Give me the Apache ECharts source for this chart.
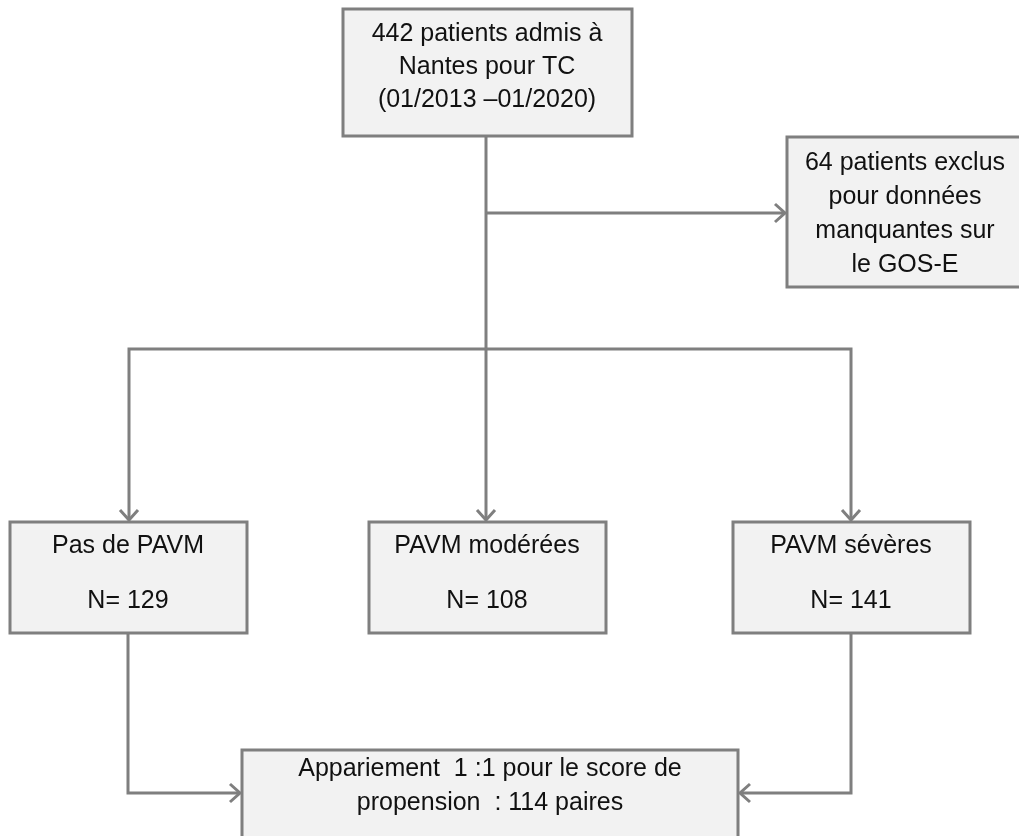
<!DOCTYPE html>
<html lang="fr">
<head>
    <meta charset="UTF-8">
    <title>Diagramme de flux</title>
    <style>
        html, body { margin: 0; padding: 0; background: #fff; }
        #chartBox { width: 1019px; height: 836px; }
    </style>
</head>
<body>
<div id="chartBox"></div>
<script type="text/javascript" src="https://cdn.jsdelivr.net/npm/echarts@6/dist/echarts.min.js"></script>
<script type="text/javascript">
    // effectifs
    var totalAdmis = 442;
    var periode = '(01/2013 \u201301/2020)';
    var exclus = 64;
    var groupes = ['Pas de PAVM', 'PAVM modérées', 'PAVM sévères'];
    var effectifs = [129, 108, 141];
    var paires = 114;

    // texte de chaque case
    var boxTexts = [
        [totalAdmis + ' patients admis à', 'Nantes pour TC', periode],
        [exclus + ' patients exclus', 'pour données', 'manquantes sur', 'le GOS-E'],
        [groupes[0], 'N= ' + effectifs[0]],
        [groupes[1], 'N= ' + effectifs[1]],
        [groupes[2], 'N= ' + effectifs[2]],
        ['Appariement  1 :1 pour le score de', 'propension  : ' + paires + ' paires']
    ];

    // mise en page (pixels) : x0, y0, x1, y1, centre texte, 1re ligne, interligne
    var boxLayout = [
        [343, 9, 632, 136, 487, 34, 33],
        [787, 137, 1023, 287, 905, 163, 34],
        [10, 522, 247, 633, 128, 546, 55],
        [369, 522, 606, 633, 487, 546, 55],
        [733, 522, 970, 633, 851, 546, 55],
        [242, 750, 738, 870, 490, 769, 34]
    ];

    // traits de liaison, le dernier point porte la flèche si arrow = true
    var connectors = [
        { path: [[486, 136], [486, 349]], arrow: false },
        { path: [[486, 213], [785, 213]], arrow: true },
        { path: [[486, 349], [129, 349], [129, 520]], arrow: true },
        { path: [[486, 349], [486, 520]], arrow: true },
        { path: [[486, 349], [851, 349], [851, 520]], arrow: true },
        { path: [[128, 633], [128, 793], [240, 793]], arrow: true },
        { path: [[851, 633], [851, 793], [740, 793]], arrow: true }
    ];

    var lineColor = '#7f7f7f';
    var fillColor = '#f2f2f2';
    var textColor = '#111';
    var fontFamily = '"Liberation Sans", Arial, sans-serif';

    var myChart = echarts.init(document.getElementById('chartBox'));

    myChart.setOption({
        animation: false,
        grid: { left: 0, right: 0, top: 0, bottom: 0 },
        xAxis: { type: 'value', min: 0, max: 1019, show: false },
        yAxis: { type: 'value', min: 0, max: 836, inverse: true, show: false },
        series: [
            {
                type: 'custom',
                coordinateSystem: 'cartesian2d',
                clip: false,
                z: 1,
                data: connectors.map(function (c) { return c.path[0]; }),
                renderItem: function (params, api) {
                    var c = connectors[params.dataIndex];
                    var pts = c.path.map(function (p) { return api.coord(p); });
                    var children = [{
                        type: 'polyline',
                        shape: { points: pts },
                        style: { stroke: lineColor, lineWidth: 3, fill: null, lineJoin: 'miter' }
                    }];
                    if (c.arrow) {
                        var a = pts[pts.length - 2], b = pts[pts.length - 1];
                        var dx = b[0] - a[0], dy = b[1] - a[1];
                        var len = Math.sqrt(dx * dx + dy * dy);
                        dx /= len; dy /= len;
                        var back = 10, side = 9;
                        children.push({
                            type: 'polyline',
                            shape: {
                                points: [
                                    [b[0] - back * dx - side * dy, b[1] - back * dy + side * dx],
                                    [b[0], b[1]],
                                    [b[0] - back * dx + side * dy, b[1] - back * dy - side * dx]
                                ]
                            },
                            style: { stroke: lineColor, lineWidth: 3, fill: null, lineJoin: 'miter' }
                        });
                    }
                    return { type: 'group', children: children };
                }
            },
            {
                type: 'custom',
                coordinateSystem: 'cartesian2d',
                clip: false,
                z: 2,
                data: boxLayout.map(function (b) { return [b[0], b[1]]; }),
                renderItem: function (params, api) {
                    var b = boxLayout[params.dataIndex];
                    var lines = boxTexts[params.dataIndex];
                    var p0 = api.coord([b[0], b[1]]);
                    var p1 = api.coord([b[2], b[3]]);
                    var children = [{
                        type: 'rect',
                        shape: { x: p0[0], y: p0[1], width: p1[0] - p0[0], height: p1[1] - p0[1] },
                        style: { fill: fillColor, stroke: lineColor, lineWidth: 3 }
                    }];
                    lines.forEach(function (t, i) {
                        var pt = api.coord([b[4], b[5] + i * b[6]]);
                        children.push({
                            type: 'text',
                            x: pt[0],
                            y: pt[1],
                            style: {
                                text: t,
                                fill: textColor,
                                fontSize: 25,
                                fontFamily: fontFamily,
                                align: 'center',
                                verticalAlign: 'middle'
                            }
                        });
                    });
                    return { type: 'group', children: children };
                }
            }
        ]
    });
</script>
</body>
</html>
